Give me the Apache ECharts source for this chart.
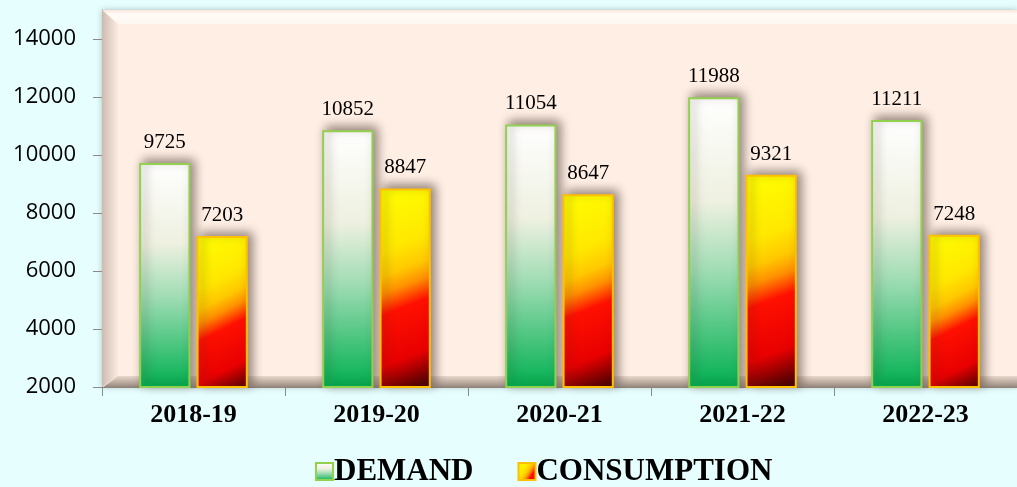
<!DOCTYPE html>
<html>
<head>
<meta charset="utf-8">
<script src="https://cdn.jsdelivr.net/npm/echarts@6/dist/echarts.min.js"></script>
<style>
html,body{margin:0;padding:0;background:#E6FEFE;}
#c{width:1017px;height:487px;}
</style>
</head>
<body>
<div id="c"></div>
<script>
const categories = ['2018-19', '2019-20', '2020-21', '2021-22', '2022-23'];
const demand = [9725, 10852, 11054, 11988, 11211];
const consumption = [7203, 8847, 8647, 9321, 7248];
const yTicks = [2000, 4000, 6000, 8000, 10000, 12000, 14000];

const chart = echarts.init(document.getElementById('c'));
const G = echarts.graphic.LinearGradient;

const demandFill = new G(0, 0, 0, 1, [
  {offset: 0, color: '#FFFFFF'},
  {offset: 0.36, color: '#EEF0E0'},
  {offset: 0.6, color: '#9EDCB3'},
  {offset: 1, color: '#00B050'}
]);
const consFill = new G(0, 0, 1.4, 0.93, [
  {offset: 0, color: '#FFFF00'},
  {offset: 0.3, color: '#FFE800'},
  {offset: 0.42, color: '#FFC800'},
  {offset: 0.5, color: '#FF9000'},
  {offset: 0.6, color: '#FF1000'},
  {offset: 0.84, color: '#E80000'},
  {offset: 1, color: '#500000'}
]);

chart.setOption({
  backgroundColor: '#E6FEFE',
  animation: false,
  grid: {
    left: 102, right: 0, top: 10, bottom: 100,
    show: true,
    backgroundColor: '#FEEEE3',
    borderWidth: 0,
    shadowColor: 'rgba(0,0,0,0.25)',
    shadowBlur: 6
  },
  graphic: [
    {type: 'polygon', z: 1, silent: true,
     shape: {points: [[102,10],[1017,10],[1017,24],[118,24]]},
     style: {fill: new G(0,0,0,1,[{offset:0,color:'#F8E6DA'},{offset:0.3,color:'#FFFBF8'},{offset:1,color:'#FFF7F0'}])}},
    {type: 'polygon', z: 1, silent: true,
     shape: {points: [[102,10],[118,24],[118,376],[102,387]]},
     style: {fill: new G(0,0,1,0,[{offset:0,color:'#CDBBB0'},{offset:1,color:'#FBEBE0'}])}},
    {type: 'polygon', z: 1, silent: true,
     shape: {points: [[118,376],[1017,376],[1017,388],[102,388]]},
     style: {fill: new G(0,0,0,1,[{offset:0,color:'#E8D8CC'},{offset:0.5,color:'#BFADA2'},{offset:1,color:'#8E8078'}])}}
  ],
  legend: {
    left: 310, top: 451,
    itemWidth: 17, itemHeight: 17, itemGap: 44,
    icon: 'rect',
    textStyle: {fontFamily: 'Liberation Serif', fontWeight: 'bold', fontSize: 31, color: '#000', padding: [0,0,0,-4]},
    data: ['DEMAND', 'CONSUMPTION']
  },
  xAxis: {
    type: 'category',
    data: categories,
    axisLine: {show: true, lineStyle: {color: '#8A8A8A', width: 1}},
    axisTick: {show: true, length: 9, lineStyle: {color: '#8A8A8A'}},
    axisLabel: {fontFamily: 'Liberation Serif', fontWeight: 'bold', fontSize: 26, color: '#000', margin: 15}
  },
  yAxis: {
    type: 'value',
    min: 2000, max: 15000, interval: 2000,
    splitLine: {show: false},
    axisLine: {show: true, lineStyle: {color: '#8A8A8A', width: 1}},
    axisTick: {show: true, length: 9, lineStyle: {color: '#8A8A8A'}, customValues: yTicks},
    axisLabel: {fontFamily: 'Open Sans', fontSize: 22, color: '#000', margin: 26, customValues: yTicks,
      formatter: function (v) { return String(v); }}
  },
  series: [
    {
      name: 'DEMAND', type: 'bar', data: demand, z: 3,
      barWidth: '28%', barGap: '12%',
      itemStyle: {color: demandFill, borderColor: '#92D050', borderWidth: 2,
        shadowColor: 'rgba(60,40,30,0.55)', shadowBlur: 10, shadowOffsetX: 4, shadowOffsetY: -3},
      label: {show: true, position: 'top', distance: 10, fontFamily: 'Liberation Serif', fontSize: 21, color: '#000'}
    },
    {
      name: 'CONSUMPTION', type: 'bar', data: consumption, z: 3,
      barWidth: '28%',
      itemStyle: {color: consFill, borderColor: '#FFC000', borderWidth: 2,
        shadowColor: 'rgba(60,40,30,0.55)', shadowBlur: 10, shadowOffsetX: 4, shadowOffsetY: -3},
      label: {show: true, position: 'top', distance: 10, fontFamily: 'Liberation Serif', fontSize: 21, color: '#000'}
    }
  ]
});
</script>
</body>
</html>
